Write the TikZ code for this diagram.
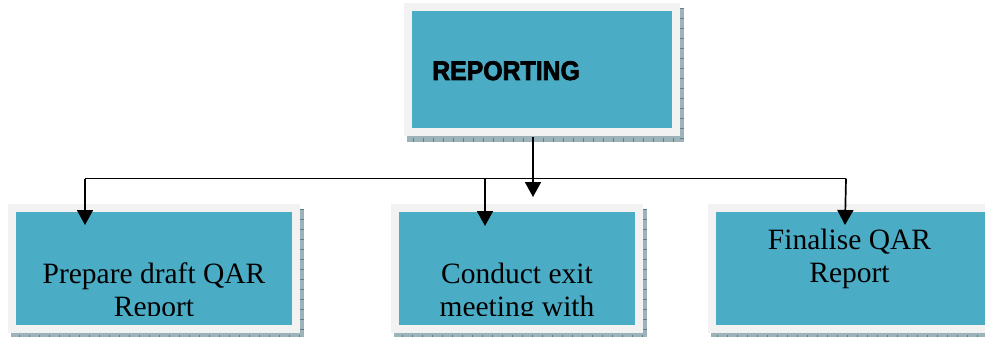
\documentclass[tikz,border=0pt]{standalone}
\usepackage{fontspec}
\setmainfont{Liberation Serif}
\newfontfamily\headfont{Liberation Sans}[FakeStretch=0.92, FakeBold=2.6]
\usetikzlibrary{arrows.meta,backgrounds}

\definecolor{boxteal}{HTML}{4BACC6}
\definecolor{framegray}{HTML}{F2F2F2}
\definecolor{shadowgray}{HTML}{9CB3BA}
\definecolor{tickgray}{HTML}{5E7F88}

\begin{document}
\begin{tikzpicture}[x=1pt, y=-1pt, every node/.style={inner sep=0pt}, box/.style={draw=framegray, line width=8pt, fill=boxteal, outer sep=0pt, minimum height=121pt}, lbl/.style={font=\fontsize{29.5}{33}\selectfont, align=center, anchor=base}, arr/.style={-{Triangle[length=15pt,width=16pt]}, line width=1.7pt}, ticks/.style={draw=tickgray, line width=4pt, dash pattern=on 0.8pt off 9.2pt}]
\useasboundingbox (0,0) rectangle (985,337);
% boxes
\node[box, minimum width=268pt, minimum height=125pt] (top) at (542,69.5) {};
\node[box, minimum width=284pt] (prep) at (154,268.5) {};
\node[box, minimum width=244pt] (exit) at (517,268.5) {};
\node[box, minimum width=282pt] (final) at (853,268.5) {};
% shadows with small ticks
\begin{scope}[on background layer]
\foreach \b in {top,prep,exit,final}{
  \fill[shadowgray] ([xshift=-1pt,yshift=-1pt]\b.north west) rectangle ([xshift=8pt,yshift=-10pt]\b.south east);
  \draw[ticks] ([xshift=6pt,yshift=-1pt]\b.north east) -- ([xshift=6pt,yshift=-8pt]\b.south east) -- ([xshift=-1pt,yshift=-8pt]\b.south west);
}
\end{scope}
% labels (base = last line)
\node[font=\headfont\bfseries\fontsize{27}{30}\selectfont, anchor=base west] (toplbl) at ([xshift=24pt,yshift=-10.5pt]top.west) {REPORTING};
\node[lbl] (finallbl) at ([xshift=-3.5pt,yshift=-13.5pt]final.center) {Finalise QAR\\Report};
\begin{scope}
\clip (0,0) rectangle (985,315);
\node[lbl] (preplbl) at ([yshift=-47.5pt]prep.center) {Prepare draft QAR\\Report};
\node[lbl] (exitlbl) at ([yshift=-47.5pt]exit.center) {Conduct exit\\meeting with};
\end{scope}
% connectors
\coordinate (busL) at (85,178.5);
\coordinate (busR) at (846,178.5);
\coordinate (in1) at ([xshift=-69pt,yshift=-17pt]prep.north);
\coordinate (in2) at ([xshift=-32pt,yshift=-18pt]exit.north);
\coordinate (in3) at ([xshift=-8pt,yshift=-17pt]final.north);
\draw[line width=1.7pt] (busL) -- (busR);
\draw[arr] ([xshift=-9pt,yshift=-5pt]top.south) -- ++(0,60);
\draw[arr] (busL) -- (in1);
\draw[arr] (in2 |- busL) -- (in2);
\draw[arr] (busR) -- (in3);
\end{tikzpicture}
\end{document}
